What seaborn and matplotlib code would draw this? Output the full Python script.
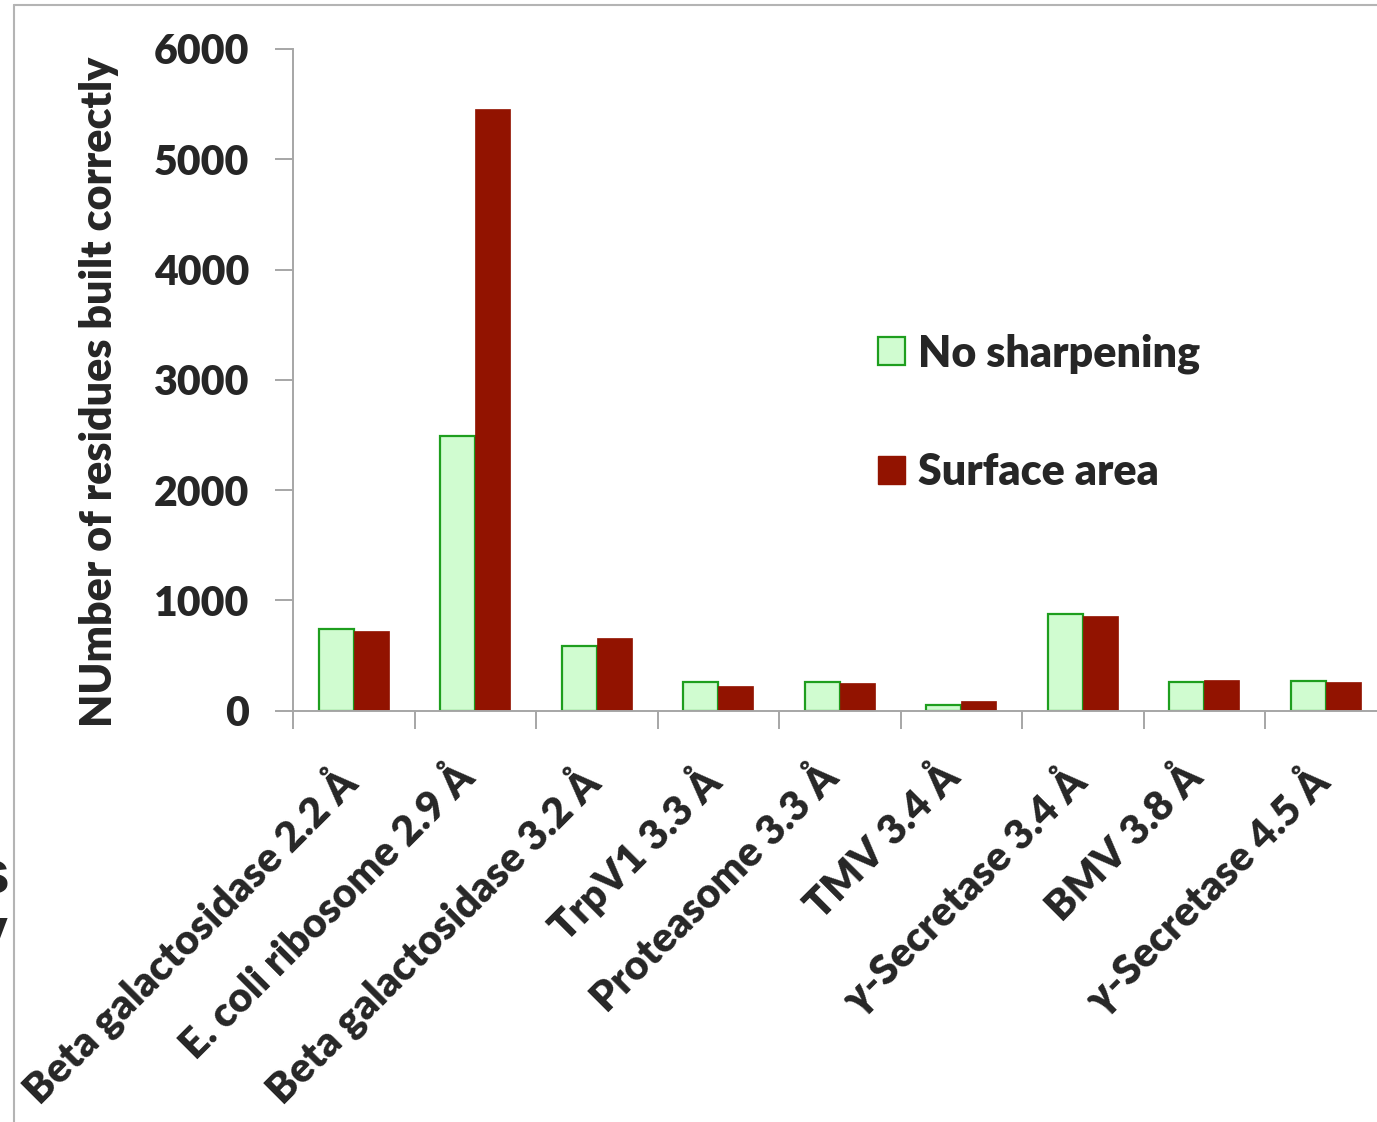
import matplotlib
matplotlib.use("Agg")
import matplotlib.pyplot as plt
import matplotlib.transforms as mtransforms
from matplotlib.patches import Patch
import seaborn as sns
import pandas as pd

# Structures and resolutions
categories = [
    "Beta galactosidase 2.2 Å",
    "E. coli ribosome 2.9 Å",
    "Beta galactosidase 3.2 Å",
    "TrpV1 3.3 Å",
    "Proteasome 3.3 Å",
    "TMV 3.4 Å",
    "γ-Secretase 3.4 Å",
    "BMV 3.8 Å",
    "γ-Secretase 4.5 Å",
]
series_names = ["No sharpening", "Surface area"]
no_sharpening = [737, 2491, 585, 259, 259, 53, 876, 256, 270]
surface_area = [721, 5452, 655, 222, 247, 83, 861, 277, 261]
y_ticks = [0, 1000, 2000, 3000, 4000, 5000, 6000]

df = pd.DataFrame({
    "structure": categories * 2,
    "method": [series_names[0]] * len(categories) + [series_names[1]] * len(categories),
    "residues": no_sharpening + surface_area,
})

sns.set_theme(style="white")
plt.rcParams["font.family"] = ["Lato", "DejaVu Sans"]
WEIGHT = "heavy"
plt.rcParams["font.weight"] = WEIGHT

W, H = 1377, 1122
fig = plt.figure(figsize=(W / 100, H / 100), dpi=100)
ax = fig.add_axes([293 / W, 1 - 710.5 / H, (121.5 * 9) / W, (710.5 - 49) / H])

green_fill = "#d0fcd0"
green_edge = "#1e9e1e"
dark_red = "#921300"
grey = "#a6a6a6"
FS = 31

sns.barplot(
    data=df, x="structure", y="residues", hue="method",
    order=categories, hue_order=series_names,
    palette=[green_fill, dark_red], width=0.576, gap=0,
    legend=False, ax=ax, saturation=1,
)
for bar in ax.containers[0]:
    bar.set_edgecolor(green_edge)
    bar.set_linewidth(1.6)
for bar in ax.containers[1]:
    bar.set_edgecolor(dark_red)
    bar.set_linewidth(0.5)

ax.set_xlim(-0.5, len(categories) - 0.5)
ax.set_ylim(0, 6000)
ax.set_yticks(y_ticks)
ax.set_yticklabels([str(t) for t in y_ticks], fontsize=29.5, fontweight=WEIGHT)

# category labels at centres, tick marks at the boundaries
ax.set_xticks(range(len(categories)))
ax.set_xticklabels(categories, rotation=45, ha="right", rotation_mode="anchor",
                   fontsize=29.7, fontweight=WEIGHT)
ax.set_xticks([i - 0.5 for i in range(len(categories) + 1)], minor=True)
ax.tick_params(axis="x", which="major", length=0, pad=16)
ax.tick_params(axis="x", which="minor", length=13, width=1.4, color=grey, direction="out", bottom=True)
ax.tick_params(axis="y", length=13, width=1.4, color=grey, direction="out", left=True, pad=18.5)

# nudge the slanted category labels down and to the left
shift = mtransforms.ScaledTranslation(-22 / 100, -24 / 100, fig.dpi_scale_trans)
for lbl in ax.get_xticklabels():
    lbl.set_transform(lbl.get_transform() + shift)

for side in ["top", "right"]:
    ax.spines[side].set_visible(False)
for side in ["left", "bottom"]:
    ax.spines[side].set_color(grey)
    ax.spines[side].set_linewidth(1.4)

ax.set_xlabel("")
ax.set_ylabel("NUmber of residues built correctly", fontsize=FS, fontweight=WEIGHT, labelpad=25)
ax.yaxis.label.set_y(0.4815)

handles = [Patch(facecolor=green_fill, edgecolor=green_edge, linewidth=1.6),
           Patch(facecolor=dark_red, edgecolor=dark_red)]
ax.legend(handles, series_names, loc="upper left",
          bbox_to_anchor=(878 / W, 1 - 333 / H), bbox_transform=fig.transFigure,
          frameon=False, handlelength=0.62, handleheight=0.62,
          handletextpad=0.3, labelspacing=1.83, borderpad=0, borderaxespad=0,
          prop={"weight": WEIGHT, "size": FS})

# slide frame and text fragments at the left edge
fig.add_artist(plt.Line2D([13.5 / W, 1], [1 - 4.5 / H, 1 - 4.5 / H], color="#b4b4b4", lw=1.5,
                          transform=fig.transFigure))
fig.add_artist(plt.Line2D([13.5 / W, 13.5 / W], [0, 1 - 4.5 / H], color="#b4b4b4", lw=1.5,
                          transform=fig.transFigure))
fig.text(10 / W, 1 - 893 / H, "s", ha="right", va="baseline", fontsize=44,
         fontweight="bold", family="Liberation Sans")
fig.text(8 / W, 1 - 950 / H, "y", ha="right", va="baseline", fontsize=44,
         fontweight="bold", family="Liberation Sans")

fig.savefig("out.png", dpi=100, facecolor="white")
